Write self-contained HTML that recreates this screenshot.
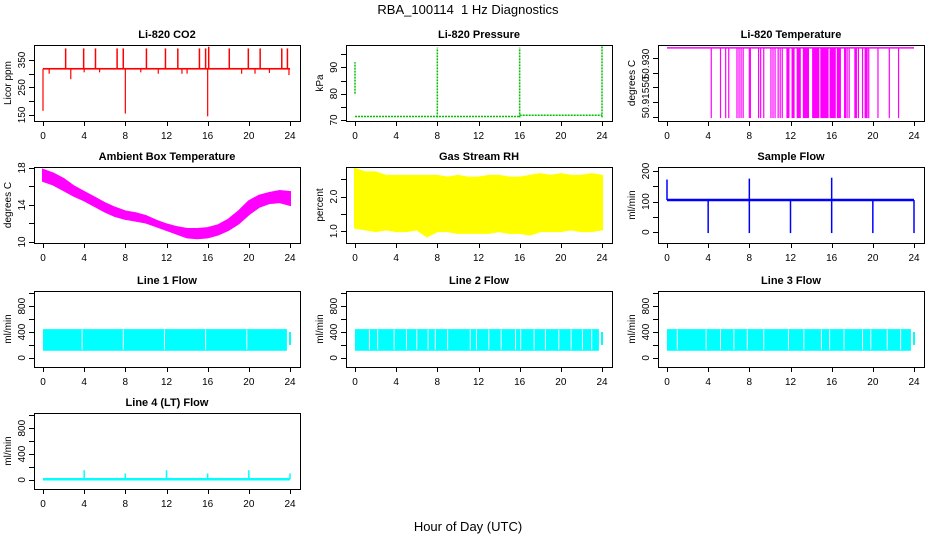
<!DOCTYPE html>
<html><head><meta charset="utf-8">
<style>
html,body{margin:0;padding:0;background:#fff;}
svg{display:block;font-family:"Liberation Sans",Arial,sans-serif;}
</style></head>
<body>
<svg id="chart" width="936" height="540" viewBox="0 0 936 540" xmlns="http://www.w3.org/2000/svg">
<text x="468" y="14" text-anchor="middle" font-size="13">RBA_100114&#160; 1 Hz Diagnostics</text>
<text x="468" y="531" text-anchor="middle" font-size="13">Hour of Day (UTC)</text>
</svg>
<script>
const hours = [0,1,2,3,4,5,6,7,8,9,10,11,12,13,14,15,16,17,18,19,20,21,22,23,24];
const xTicks = [0,4,8,12,16,20,24];
// CO2
const co2Base = 318;
const co2UpTimes = [2.2,3.95,5.1,7.2,7.8,10.05,11.9,13.1,15.2,15.8,16.1,18.1,19.95,21.1,23.2,23.75];
const co2UpValues = [392,392,392,392,392,392,392,392,392,392,398,392,392,392,392,392];
const co2DownTimes = [0,8,16,0.6,2.7,5.5,9.5,11.2,14.0,19.3,20.6,22.0,23.9,4.0,13.5];
const co2DownValues = [165,155,145,300,280,305,305,300,300,300,300,303,295,305,300];
// Pressure
const presBaseA = 71.3, presBaseB = 71.8;
const presSpikeTimes = [0,8,16,24];
const presSpikeLow = [80,71,71,71];
const presSpikeHigh = [92,97.5,97.5,98.5];
// Li-820 temperature
const tempDropTimes = [4.3,5.2,5.7,6.0,6.8,7.0,7.2,7.4,8.0,8.1,8.9,9.1,9.4,10.1,10.3,10.5,10.8,11.0,11.2,17.5,17.7,18.4,18.6,19.0,19.3,19.6,20.5,21.6,22.5];
const tempDenseStart = [11.6,12.1,12.6,13.2,14.1,14.9,15.8,16.5,17.2,18.2,19.2];
const tempDenseEnd = [11.9,12.4,13.0,13.8,14.8,15.7,16.4,16.9,17.4,18.4,19.5];
// Ambient box temperature
const ambientMin = [16.6,16.2,15.6,15.0,14.5,13.9,13.3,12.8,12.5,12.3,12.1,11.7,11.3,10.9,10.5,10.4,10.5,10.8,11.3,12.0,13.0,13.8,14.2,14.3,14.0];
const ambientMax = [17.8,17.4,16.8,16.0,15.4,14.8,14.2,13.7,13.3,13.1,12.8,12.3,11.9,11.6,11.4,11.4,11.5,11.8,12.4,13.3,14.4,15.0,15.3,15.5,15.4];
// Gas stream RH
const rhMin = [1.1,1.05,1.0,1.05,1.0,1.0,1.05,0.85,1.0,1.0,0.95,0.95,0.95,0.95,1.0,0.95,0.95,0.9,1.0,1.0,1.0,1.05,1.0,1.0,1.05];
const rhMax = [2.8,2.7,2.7,2.6,2.6,2.6,2.6,2.6,2.6,2.55,2.6,2.55,2.55,2.6,2.6,2.55,2.55,2.6,2.65,2.6,2.65,2.6,2.6,2.65,2.6];
// Sample flow
const flowBase = 105;
const flowDropTimes = [4,8,12,16,20,24];
const flowDropValues = [-3,-3,-3,-3,-3,-3];
const flowSpikeTimes = [0,8,16];
const flowSpikeValues = [172,175,178];
// Line flows
const lineMin = 110, lineMax = 445;
const line1Gaps = [3.8,7.8,11.8,15.8,19.8];
const line2Gaps = [1.4,2.2,3.8,5.0,6.0,7.1,7.8,9.0,11.2,11.8,13.0,14.2,15.6,16.1,17.4,18.5,19.8,21.0,22.1,23.0];
const line3Gaps = [1.0,3.8,5.2,6.5,7.8,9.4,11.8,13.3,15.0,15.8,17.2,19.0,19.8,21.4,22.7];
const line4Base = 10;
const line4SpikeTimes = [4,8,12,16,20,24];
const line4SpikeValues = [150,100,150,100,150,100];

const NS = "http://www.w3.org/2000/svg";
const svg = document.getElementById('chart');
function mk(tag, attrs, parent){const e=document.createElementNS(NS,tag);for(const k in attrs)e.setAttribute(k,attrs[k]);(parent||svg).appendChild(e);return e;}

const colX = [34,346,658], rowY = [45,167,291,413], W = 266, H = 76;
function panel(col,row,title,ylab,ymin,ymax,yTicks,yLabels,name,pixelLabels){
  const g = mk('g',{});
  
  
  const L=colX[col],T=rowY[row];
  const xs = h => L+9+h*(247/24);
  const ys = v => T+H-(v-ymin)/(ymax-ymin)*H;
  const t = mk('text',{x:L+W/2,y:T-7,'text-anchor':'middle','font-size':11,'font-weight':'bold'},g);
  t.textContent=title;
  
  
  const plot = mk('g',{},g);
  
  
  const box = mk('rect',{x:L+0.5,y:T+0.5,width:W,height:H,fill:'none',stroke:'#000','stroke-width':1},g);
  
  
  const xa = mk('g',{},g);
  
  
  mk('line',{x1:xs(0),x2:xs(24),y1:T+H+0.5,y2:T+H+0.5,stroke:'#000'},xa);
  xTicks.forEach(h=>{
    mk('line',{x1:Math.round(xs(h))+0.5,x2:Math.round(xs(h))+0.5,y1:T+H,y2:T+H+5,stroke:'#000'},xa);
    const lt=mk('text',{x:xs(h),y:T+H+18,'text-anchor':'middle','font-size':10},xa);lt.textContent=h;
  });
  const ya = mk('g',{},g);
  
  
  if(yTicks.length){
    mk('line',{x1:L+0.5,x2:L+0.5,y1:ys(yTicks[0]),y2:ys(yTicks[yTicks.length-1]),stroke:'#000'},ya);
    yTicks.forEach(v=>{mk('line',{x1:L-5,x2:L,y1:Math.round(ys(v))+0.5,y2:Math.round(ys(v))+0.5,stroke:'#000'},ya);});
  }
  yLabels.forEach(([v,s])=>{
    const yy = pixelLabels ? v : ys(v);
    const lt=mk('text',{x:0,y:0,'text-anchor':'middle','font-size':10,transform:`translate(${L-9},${yy}) rotate(-90)`},ya);lt.textContent=s;
  });
  const yt=mk('text',{x:0,y:0,'text-anchor':'middle','font-size':10,transform:`translate(${L-23},${T+H/2}) rotate(-90)`},g);
  yt.textContent=ylab;
  
  
  return {plot,xs,ys};
}
function vline(p,h,v1,v2,color,w,extra){const e=mk('line',Object.assign({x1:p.xs(h),x2:p.xs(h),y1:p.ys(v1),y2:p.ys(v2),stroke:color,'stroke-width':w||1},extra||{}),p.plot);return e;}
function band(p,mins,maxs,color){
  let d='';
  hours.forEach((h,i)=>{d+=(i?'L':'M')+p.xs(h)+','+p.ys(maxs[i]);});
  for(let i=hours.length-1;i>=0;i--)d+='L'+p.xs(hours[i])+','+p.ys(mins[i]);
  mk('path',{d:d+'Z',fill:color,stroke:color,'stroke-width':2},p.plot);
}

// CO2
let p = panel(0,0,'Li-820 CO2','Licor ppm',128,404.5,[150,200,250,300,350],[[150,'150'],[250,'250'],[350,'350']],'co2');
mk('rect',{x:p.xs(0),y:p.ys(co2Base+3),width:p.xs(24)-p.xs(0),height:p.ys(co2Base-3)-p.ys(co2Base+3),fill:'#f00'},p.plot);
co2UpTimes.forEach((h,i)=>vline(p,h,co2Base,co2UpValues[i],'#f00',1.5));
co2DownTimes.forEach((h,i)=>vline(p,h,co2Base,co2DownValues[i],'#f00',1.2));

// Pressure
p = panel(1,0,'Li-820 Pressure','kPa',69.6,98.5,[70,75,80,85,90,95],[[70,'70'],[80,'80'],[90,'90']],'pressure');
mk('line',{x1:p.xs(0),x2:p.xs(16),y1:p.ys(presBaseA),y2:p.ys(presBaseA),stroke:'#00c000','stroke-width':1.5,'stroke-dasharray':'2,1'},p.plot);
mk('line',{x1:p.xs(16),x2:p.xs(24),y1:p.ys(presBaseB),y2:p.ys(presBaseB),stroke:'#00c000','stroke-width':1.5,'stroke-dasharray':'2,1'},p.plot);
presSpikeTimes.forEach((h,i)=>vline(p,h,presSpikeLow[i],presSpikeHigh[i],'#00c000',1.5,{'stroke-dasharray':'2,1'}));

// Li-820 temperature
p = panel(2,0,'Li-820 Temperature','degrees C',50.9085,50.9345,[50.910,50.915,50.920,50.925,50.930],[[103,'50.915'],[82,'50'],[64,'50.930']],'li820-temp',true);
const topV=50.9335, botV=50.9095;
mk('line',{x1:p.xs(0),x2:p.xs(24),y1:p.ys(topV),y2:p.ys(topV),stroke:'#f0f','stroke-width':1.5},p.plot);
tempDropTimes.forEach(h=>vline(p,h,topV,botV,'#f0f',1.2));
tempDenseStart.forEach((s,i)=>mk('rect',{x:p.xs(s),y:p.ys(topV),width:p.xs(tempDenseEnd[i])-p.xs(s),height:p.ys(botV)-p.ys(topV),fill:'#f0f'},p.plot));

// Ambient
p = panel(0,1,'Ambient Box Temperature','degrees C',9.89,18.1,[10,12,14,16,18],[[10,'10'],[14,'14'],[18,'18']],'ambient-temp');
band(p,ambientMin,ambientMax,'#f0f');

// RH
p = panel(1,1,'Gas Stream RH','percent',0.657,2.857,[1.0,1.5,2.0,2.5],[[1.0,'1.0'],[2.0,'2.0']],'rh');
band(p,rhMin,rhMax,'#ff0');

// Sample flow
p = panel(2,1,'Sample Flow','ml/min',-35.5,213,[0,50,100,150,200],[[0,'0'],[100,'100'],[200,'200']],'sample-flow');
mk('line',{x1:p.xs(0),x2:p.xs(24),y1:p.ys(flowBase),y2:p.ys(flowBase),stroke:'#00f','stroke-width':2.5},p.plot);
flowDropTimes.forEach((h,i)=>vline(p,h,flowBase,flowDropValues[i],'#00f',1.5));
flowSpikeTimes.forEach((h,i)=>vline(p,h,flowBase,flowSpikeValues[i],'#00f',1.5));

// Line flows
const lf=[[0,2,'Line 1 Flow',line1Gaps,'line1-flow'],[1,2,'Line 2 Flow',line2Gaps,'line2-flow'],[2,2,'Line 3 Flow',line3Gaps,'line3-flow']];
lf.forEach(([c,r,t,gaps,n])=>{
  const q = panel(c,r,t,'ml/min',-141,1035,[0,200,400,600,800,1000],[[0,'0'],[400,'400'],[800,'800']],n);
  mk('rect',{x:q.xs(0),y:q.ys(lineMax),width:q.xs(23.7)-q.xs(0),height:q.ys(lineMin)-q.ys(lineMax),fill:'#0ff'},q.plot);
  vline(q,24,200,400,'#0ff',2);
  gaps.forEach(h=>vline(q,h,lineMin+20,lineMax-10,'#fff',1));
});
p = panel(0,3,'Line 4 (LT) Flow','ml/min',-141,1035,[0,200,400,600,800,1000],[[0,'0'],[400,'400'],[800,'800']],'line4-flow');
mk('line',{x1:p.xs(0),x2:p.xs(24),y1:p.ys(line4Base),y2:p.ys(line4Base),stroke:'#0ff','stroke-width':2.5},p.plot);
line4SpikeTimes.forEach((h,i)=>vline(p,h,line4Base,line4SpikeValues[i],'#0ff',1.5));
</script>
</body></html>
